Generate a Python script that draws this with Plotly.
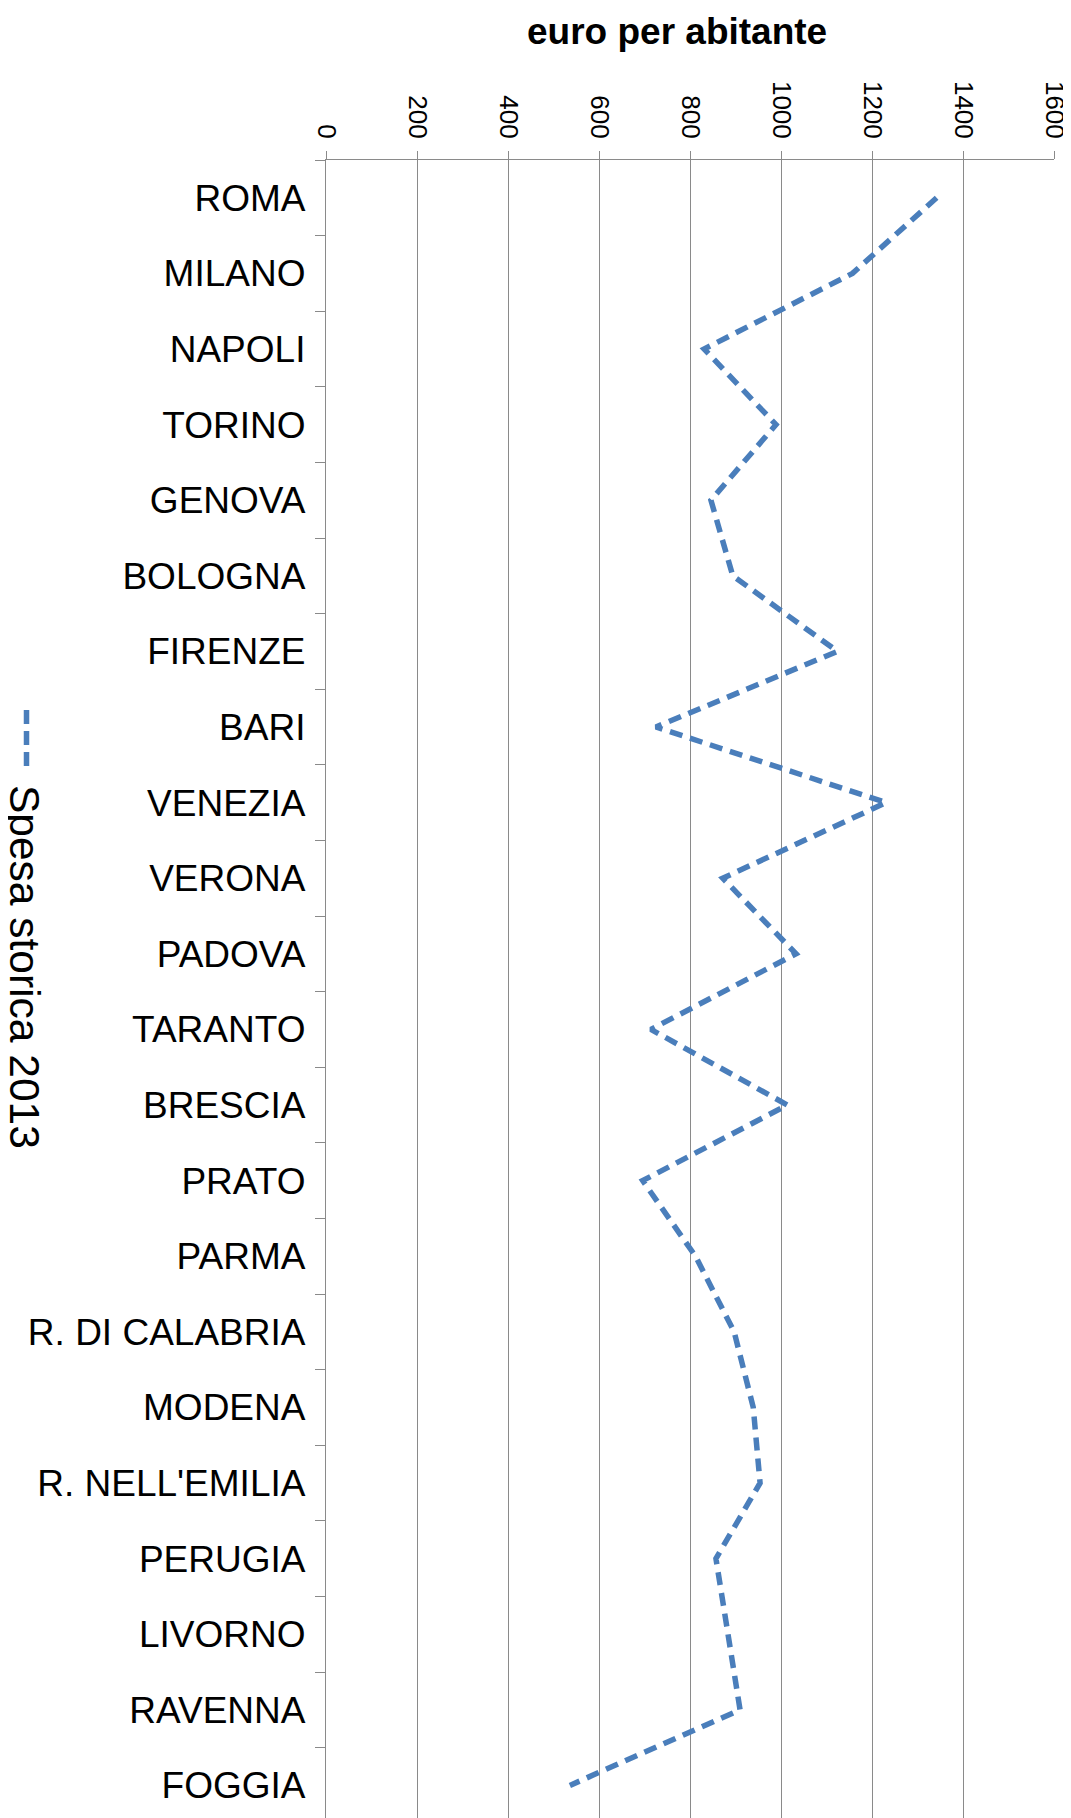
import plotly.graph_objects as go

cities = ["ROMA", "MILANO", "NAPOLI", "TORINO", "GENOVA", "BOLOGNA", "FIRENZE", "BARI",
          "VENEZIA", "VERONA", "PADOVA", "TARANTO", "BRESCIA", "PRATO", "PARMA",
          "R. DI CALABRIA", "MODENA", "R. NELL'EMILIA", "PERUGIA", "LIVORNO", "RAVENNA", "FOGGIA"]
spesa_storica_2013 = [1342, 1157, 831, 989, 846, 894, 1124, 725, 1231, 872, 1033, 714,
                      1014, 696, 812, 897, 939, 954, 857, 883, 910, 536]
x_ticks = [0, 200, 400, 600, 800, 1000, 1200, 1400, 1600]
series_name = "Spesa storica 2013"
axis_title = "euro per abitante"

# page body has an 8px default margin: compensate so the figure fills the 1071x1818 window
OFF = 8
W, H = 1071 - OFF, 1818 - OFF
L, T, B = 326 - OFF, 160 - OFF, 0
pw = 728
R = W - L - pw
ph = H - T - B
blue = "#4A7EBB"
grid = "#8a8a8a"
font = "Liberation Sans, Arial, sans-serif"

def px_x(px):
    return (px - OFF - L) / pw

def px_y(py):
    return 1 - (py - OFF - T) / ph

fig = go.Figure()
fig.add_trace(go.Scatter(
    x=spesa_storica_2013, y=cities, mode="lines", name=series_name,
    line=dict(color=blue, width=5.5, dash="13px,8px"),
    showlegend=False,
))

n_vis = ph / 75.6
fig.update_layout(
    width=W, height=H,
    margin=dict(l=L, r=R, t=T, b=B, pad=0, autoexpand=False),
    plot_bgcolor="white", paper_bgcolor="white",
    font=dict(family=font, color="black"),
    xaxis=dict(
        side="top", range=[0, 1600], tickvals=x_ticks, ticktext=[str(v) for v in x_ticks],
        tickangle=90, tickfont=dict(size=26, family=font, color="black"),
        showgrid=True, gridcolor=grid, gridwidth=1.3,
        showline=True, linecolor=grid, linewidth=1.3,
        ticks="outside", ticklen=8, tickcolor=grid, tickwidth=1.3,
        ticklabelstandoff=3, zeroline=False, fixedrange=True, automargin=False,
    ),
    yaxis=dict(
        type="category", categoryorder="array", categoryarray=cities,
        range=[-0.5 + n_vis, -0.5],
        tickfont=dict(size=37, family=font, color="black"),
        showgrid=False, showline=True, linecolor=grid, linewidth=1.3,
        ticks="outside", tickson="boundaries", ticklen=10, tickcolor=grid, tickwidth=1.3,
        ticklabelstandoff=12, zeroline=False, fixedrange=True, automargin=False,
    ),
)

fig.add_annotation(
    text="<b>%s</b>" % axis_title, xref="paper", yref="paper",
    x=px_x(677), y=px_y(32), xanchor="center", yanchor="middle",
    showarrow=False, font=dict(size=37, family=font, color="black"),
)

fig.add_annotation(
    text=series_name, xref="paper", yref="paper", textangle=90,
    x=px_x(25), y=px_y(967), xanchor="center", yanchor="middle",
    showarrow=False, font=dict(size=42.5, family=font, color="black"),
)
fig.add_shape(
    type="line", xref="paper", yref="paper",
    x0=px_x(26.5), x1=px_x(26.5), y0=px_y(710), y1=px_y(766),
    line=dict(color=blue, width=5.5, dash="14px,7px"),
)

fig.write_html("out.html")
